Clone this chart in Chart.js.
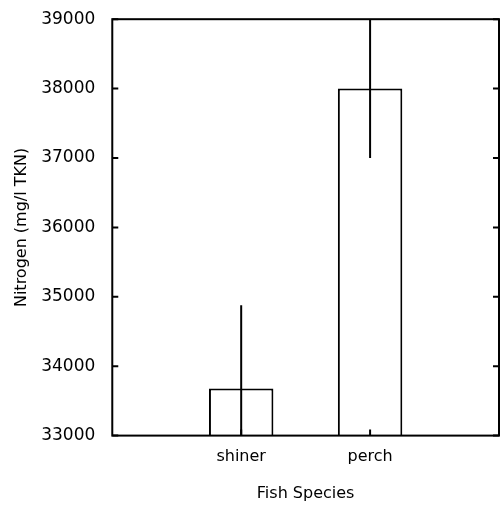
<!DOCTYPE html>
<html>
<head>
<meta charset="utf-8">
<script src="https://cdn.jsdelivr.net/npm/chart.js@4/dist/chart.umd.min.js"></script>
<style>
  html, body { margin: 0; padding: 0; background: #fff; }
  #wrap { width: 503px; height: 506px; }
</style>
</head>
<body>
<div id="wrap"><canvas id="fish-chart"></canvas></div>
<script>
// Category slots: empty slot either side, as in the original plot
const species = ['', 'shiner', 'perch', '']
const nitrogen = [null, 33680, 38000, null]
const nitrogenErr = [null, 1200, 1000, null]
const yTicks = [33000, 34000, 35000, 36000, 37000, 38000, 39000]

const ink = '#000'

// Frame with inward ticks, plus vertical error bars (no caps)
const framePlugin = {
  id: 'frame',
  afterDatasetsDraw(chart) {
    const { ctx, chartArea: a, scales: { x, y } } = chart
    ctx.save()
    ctx.strokeStyle = ink
    ctx.lineWidth = 2

    // error bars, clipped to the plot box
    ctx.save()
    ctx.beginPath()
    ctx.rect(a.left, a.top, a.right - a.left, a.bottom - a.top)
    ctx.clip()
    nitrogen.forEach((v, i) => {
      if (v === null) return
      const px = x.getPixelForValue(i)
      ctx.beginPath()
      ctx.moveTo(px, y.getPixelForValue(v + nitrogenErr[i]))
      ctx.lineTo(px, y.getPixelForValue(v - nitrogenErr[i]))
      ctx.stroke()
    })
    ctx.restore()

    ctx.strokeRect(a.left, a.top, a.right - a.left, a.bottom - a.top)

    // inward ticks
    ctx.beginPath()
    yTicks.forEach(t => {
      const py = y.getPixelForValue(t)
      ctx.moveTo(a.left, py); ctx.lineTo(a.left + 6, py)
      ctx.moveTo(a.right, py); ctx.lineTo(a.right - 6, py)
    })
    species.forEach((s, i) => {
      if (!s) return
      const px = x.getPixelForValue(i)
      ctx.moveTo(px, a.bottom); ctx.lineTo(px, a.bottom - 6)
    })
    ctx.stroke()
    ctx.restore()
  }
}

new Chart(document.getElementById('fish-chart'), {
  type: 'bar',
  data: {
    labels: species,
    datasets: [{
      data: nitrogen,
      backgroundColor: '#fff',
      borderColor: ink,
      borderWidth: 2,
      categoryPercentage: 1,
      barPercentage: 0.5
    }]
  },
  options: {
    responsive: true,
    maintainAspectRatio: false,
    animation: false,
    layout: { padding: { top: 8, right: 0, bottom: 0, left: 12 } },
    scales: {
      x: {
        offset: false,
        grid: { display: false },
        border: { display: false },
        ticks: {
          color: ink,
          padding: 4,
          maxRotation: 0,
          font: { family: 'DejaVu Sans', size: 16 }
        },
        title: {
          display: true,
          text: 'Fish Species',
          color: ink,
          font: { family: 'DejaVu Sans', size: 16 },
          padding: { top: 13, bottom: 3 }
        }
      },
      y: {
        min: 33000,
        max: 39000,
        grid: { display: false },
        border: { display: false },
        ticks: {
          stepSize: 1000,
          color: ink,
          padding: 9,
          font: { family: 'DejaVu Sans', size: 17 },
          callback: v => String(v)
        },
        title: {
          display: true,
          text: 'Nitrogen (mg/l TKN)',
          color: ink,
          font: { family: 'DejaVu Sans', size: 16 },
          padding: { top: 0, bottom: 1 }
        }
      }
    },
    plugins: {
      legend: { display: false },
      tooltip: { enabled: false }
    }
  },
  plugins: [framePlugin]
})
</script>
</body>
</html>
